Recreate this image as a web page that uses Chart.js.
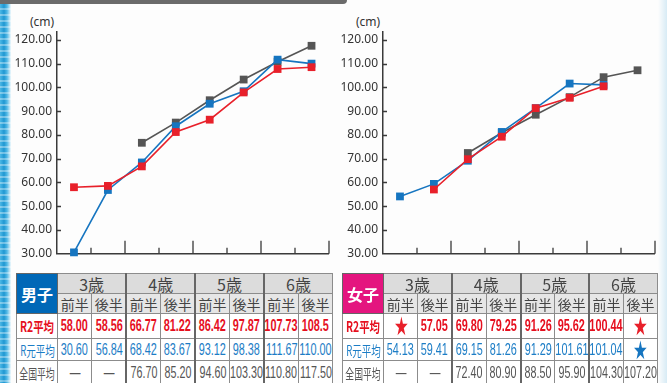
<!DOCTYPE html>
<html lang="ja">
<head>
<meta charset="utf-8">
<script src="https://cdn.jsdelivr.net/npm/chart.js@4.4.1/dist/chart.umd.min.js"></script>
<style>
    body { margin: 0; width: 667px; height: 383px; overflow: hidden; background: #fdfdfd; position: relative; font-family: "Noto Sans CJK JP", "Noto Sans", sans-serif; }
    .stripe { position: absolute; left: 0; top: 4px; width: 11px; height: 379px;
        background: repeating-linear-gradient(180deg, rgba(255,255,255,0) 0 4px, rgba(255,255,255,0.35) 4px 6px),
                    linear-gradient(90deg, #4cb8e6 0, #1f97d2 4px, #52b9e6 7px, #c9e9f7 10px, #f4fbfe 11px); }
    .edge { position: absolute; right: 0; top: 0; width: 9px; height: 383px; background: linear-gradient(90deg, rgba(220,238,247,0), #d7ebf5); }
    .topbar { position: absolute; left: 0; top: 0; width: 347px; height: 4px; background: #6b6b6b; border-bottom-right-radius: 5px; }
    canvas { position: absolute; top: 0; }
    .unit { position: absolute; top: 13px; font: 12px "Noto Sans", sans-serif; color: #333; }
    table { position: absolute; top: 273px; border-collapse: collapse; table-layout: fixed; background: #fff; }
    td { border: 1px solid #8c8c8c; padding: 0; text-align: center; white-space: nowrap; overflow: visible; line-height: 1; }
    td.grp { border-left: 2px solid #666; }
    .fit { display: flex; justify-content: center; align-items: center; }
    .fit span { flex: none; display: inline-block; }
    .head { color: #fff; font-weight: bold; font-size: 16px; border: 1px solid #666; }
    .age { background: #dcdcdc; color: #444; font-size: 16px; height: 19px; }
    .half { background: #e6e6e6; color: #444; font-size: 14px; height: 19px; }
    .r2 td { color: #e60f1e; font: bold 17px "Liberation Sans", sans-serif; }
    .r2 .fit { height: 24px; }
    .r2 td span { transform: scaleX(0.64); }
    .r1 td { color: #1c7dc6; font: 17px "Liberation Sans", sans-serif; }
    .r1 .fit { height: 21px; }
    .r1 td span { transform: scaleX(0.64); }
    .nat td { color: #555; font: 16px "Liberation Sans", sans-serif; }
    .nat .fit { height: 23px; }
    .nat td span { transform: scaleX(0.67); }
    td.lbl { font-family: "Noto Sans CJK JP", sans-serif; font-size: 14px; }
    .r2 td.lbl span { transform: scaleX(0.74); }
    .r1 td.lbl span { transform: scaleX(0.68); font-weight: normal; }
    .nat td.lbl span { transform: scaleX(0.63); }
    .star { font-size: 20px; line-height: 16px; display: block; }
</style>
</head>
<body>
<div class="topbar"></div>
<div class="stripe"></div>
<div class="edge"></div>

<div class="unit" style="left: 30px;">(cm)</div>
<div class="unit" style="left: 356px;">(cm)</div>
<canvas id="boysChart" width="334" height="266" style="left: 0;"></canvas>
<canvas id="girlsChart" width="334" height="266" style="left: 326px;"></canvas>

<table id="boysTable" style="left: 16px; width: 316px;"></table>
<table id="girlsTable" style="left: 342px; width: 315px;"></table>

<script>
const halves = ['3歳前半', '3歳後半', '4歳前半', '4歳後半', '5歳前半', '5歳後半', '6歳前半', '6歳後半'];
const ages = ['3歳', '4歳', '5歳', '6歳'];
const halfLabels = ['前半', '後半'];
const rowLabels = ['R2平均', 'R元平均', '全国平均'];

// values as printed in the tables (null = no data)
const boysR2 = ['58.00', '58.56', '66.77', '81.22', '86.42', '97.87', '107.73', '108.5'];
const boysR1 = ['30.60', '56.84', '68.42', '83.67', '93.12', '98.38', '111.67', '110.00'];
const boysNational = [null, null, '76.70', '85.20', '94.60', '103.30', '110.80', '117.50'];

const girlsR2 = [null, '57.05', '69.80', '79.25', '91.26', '95.62', '100.44', null];
const girlsR1 = ['54.13', '59.41', '69.15', '81.26', '91.29', '101.61', '101.04', null];
const girlsNational = [null, null, '72.40', '80.90', '88.50', '95.90', '104.30', '107.20'];

const yMin = 30;
const yMax = 120;
const yStep = 10;

const RED = '#e8202a';
const BLUE = '#1675c0';
const GRAY = '#555555';

const toNum = arr => arr.map(v => v === null ? null : Number(v));

// inward ticks on both axes, long ones between ages
const axisTicks = {
    id: 'axisTicks',
    beforeDatasetsDraw(chart) {
        const { ctx, scales: { x, y } } = chart;
        ctx.save();
        ctx.strokeStyle = '#3a3a3a';
        ctx.lineWidth = 1.3;
        ctx.beginPath();
        for (let i = 1; i <= halves.length; i++) {
            const px = Math.round(x.getPixelForValue(i - 0.5));
            const len = i % 2 === 0 ? 13 : 6;
            ctx.moveTo(px, y.bottom);
            ctx.lineTo(px, y.bottom - len);
        }
        for (let v = yMin + yStep; v <= yMax; v += yStep) {
            const py = Math.round(y.getPixelForValue(v)) + 0.5;
            ctx.moveTo(x.left, py);
            ctx.lineTo(x.left + 4, py);
        }
        ctx.stroke();
        ctx.restore();
    }
};

function series(label, data, color) {
    return {
        label: label,
        data: toNum(data),
        borderColor: color,
        backgroundColor: color,
        borderWidth: 1.6,
        pointStyle: 'rect',
        pointRadius: 5.5,
        pointBorderWidth: 0,
        pointBackgroundColor: color,
        tension: 0,
        clip: false
    };
}

function makeChart(id, r2, r1, national, padRight) {
    return new Chart(document.getElementById(id), {
        type: 'line',
        data: {
            labels: halves,
            datasets: [
                series(rowLabels[0], r2, RED),
                series(rowLabels[1], r1, BLUE),
                series(rowLabels[2], national, GRAY)
            ]
        },
        options: {
            responsive: false,
            animation: false,
            devicePixelRatio: 1,
            layout: { padding: { left: 0, top: 32, right: padRight, bottom: 7 } },
            plugins: { legend: { display: false }, tooltip: { enabled: false } },
            scales: {
                x: {
                    type: 'category',
                    offset: true,
                    grid: { display: false },
                    ticks: { display: false },
                    border: { display: true, color: '#3a3a3a', width: 1.5 },
                    afterFit: s => { s.height = 0; }
                },
                y: {
                    min: yMin,
                    max: 123.3,
                    grid: { display: false, drawTicks: false },
                    border: { display: true, color: '#3a3a3a', width: 1.5 },
                    ticks: {
                        stepSize: yStep,
                        includeBounds: false,
                        padding: 5,
                        color: '#333',
                        font: { family: 'Noto Sans', size: 12 },
                        callback: v => v.toFixed(2)
                    },
                    afterFit: s => { s.width = 57; }
                }
            }
        },
        plugins: [axisTicks]
    });
}

makeChart('boysChart', boysR2, boysR1, boysNational, 2);
makeChart('girlsChart', girlsR2, girlsR1, girlsNational, 3);

function cell(text, cls) {
    return `<td class="${cls || ''}"><div class="fit"><span>${text}</span></div></td>`;
}

function valueCells(values, color, empty) {
    return values.map((v, i) => {
        const cls = i % 2 === 0 && i > 0 ? 'grp' : '';
        if (v === null) {
            const mark = empty === '★' ? `<b class="star" style="color:${color}">★</b>` : empty;
            return cell(mark, cls);
        }
        return cell(v, cls);
    }).join('');
}

function buildTable(id, title, titleColor, r2, r1, national, colWidth) {
    const table = document.getElementById(id);
    let html = `<colgroup><col style="width:41px">${halves.map(() => `<col style="width:${colWidth}px">`).join('')}</colgroup>`;
    html += `<tr><td rowspan="2" class="head" style="background:${titleColor}">${title}</td>`;
    html += ages.map((a, i) => `<td colspan="2" class="age ${i > 0 ? 'grp' : ''}">${a}</td>`).join('') + '</tr>';
    html += '<tr>' + halves.map((h, i) => `<td class="half ${i % 2 === 0 && i > 0 ? 'grp' : ''}">${halfLabels[i % 2]}</td>`).join('') + '</tr>';
    html += `<tr class="r2">${cell(rowLabels[0], 'lbl')}${valueCells(r2, RED, '★')}</tr>`;
    html += `<tr class="r1">${cell(rowLabels[1], 'lbl')}${valueCells(r1, BLUE, '★')}</tr>`;
    html += `<tr class="nat">${cell(rowLabels[2], 'lbl')}${valueCells(national, GRAY, '—')}</tr>`;
    table.innerHTML = html;
}

buildTable('boysTable', '男子', '#0068b7', boysR2, boysR1, boysNational, 34.4);
buildTable('girlsTable', '女子', '#e4157f', girlsR2, girlsR1, girlsNational, 34.25);
</script>
</body>
</html>
